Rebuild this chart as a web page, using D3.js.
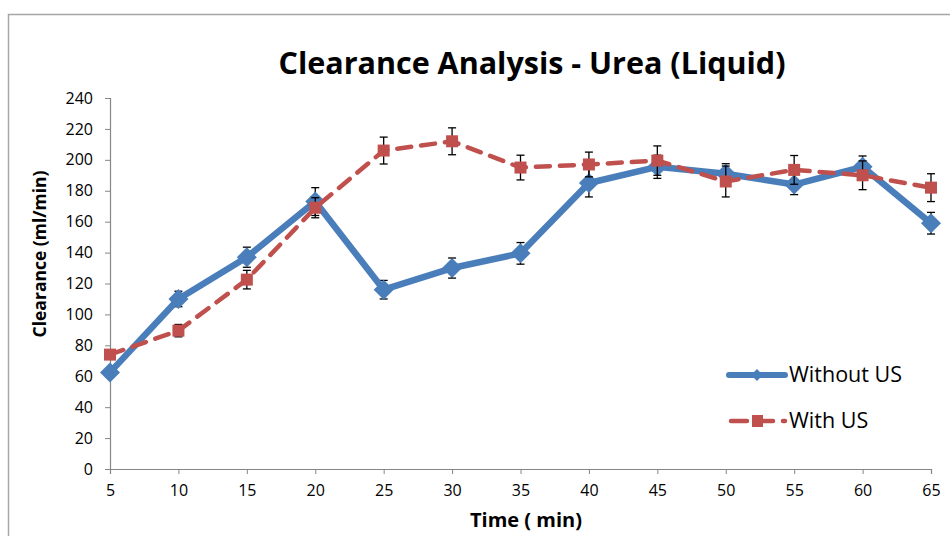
<!DOCTYPE html>
<html>
<head>
<meta charset="utf-8">
<script src="https://cdn.jsdelivr.net/npm/d3@7"></script>
<style>
html,body{margin:0;padding:0;background:#fff;}
svg{display:block;}
text{font-family:"Open Sans","Noto Sans",sans-serif;}
</style>
</head>
<body>
<svg id="chart" width="950" height="536"></svg>
<script>
const times = [5,10,15,20,25,30,35,40,45,50,55,60,65];
const withoutUS = [62.5,110,137,173,116,130,139.5,185,195.5,191,184,195.5,159];
const withoutUSErr = [3,5,6.5,9,6,6.5,7,9,7.5,6.5,6.5,7,7];
const withUS = [74,89.5,122.5,169,206,212,195,197,199.5,186,193.5,190,182];
const withUSErr = [3,4,6,6.5,8.7,8.7,8,8,9.5,10,9.3,9.3,9];
const yTicks = [0,20,40,60,80,100,120,140,160,180,200,220,240];
const seriesNames = ["Without US","With US"];
const chartTitle = "Clearance Analysis - Urea (Liquid)";
const xTitle = "Time ( min)";
const yTitle = "Clearance  (ml/min)";

const svg = d3.select("#chart");
const W = 950, H = 536;
const m = {left:110, right:950-931, top:98, bottom:536-469};

// outer border
svg.append("rect").attr("x",8.5).attr("y",14.5).attr("width",1000).attr("height",600)
  .attr("fill","none").attr("stroke","#a6a6a6").attr("stroke-width",1.5);

const x = d3.scaleLinear().domain([5,65]).range([m.left, W-m.right]);
const y = d3.scaleLinear().domain([0,240]).range([H-m.bottom, m.top]);

// axes
const yAxis = d3.axisLeft(y).tickValues(yTicks).tickSize(5).tickPadding(12);
const gy = svg.append("g").attr("transform",`translate(${m.left},0)`).call(yAxis);
const xAxis = d3.axisBottom(x).tickValues(times).tickSize(5).tickPadding(11);
const gx = svg.append("g").attr("transform",`translate(0,${H-m.bottom})`).call(xAxis);
[gx,gy].forEach(g=>{
  g.selectAll(".domain").attr("stroke","#868686").attr("stroke-width",1.2);
  g.selectAll(".tick line").attr("stroke","#868686");
  g.selectAll(".tick text").attr("font-size",16).attr("fill","#000")
   .style("font-family","'Open Sans',sans-serif");
});

// titles
svg.append("text").attr("x",532).attr("y",74).attr("text-anchor","middle")
  .attr("font-size",30.5).attr("font-weight","bold").text(chartTitle);
svg.append("text").attr("x",526).attr("y",527).attr("text-anchor","middle")
  .attr("font-size",20).attr("font-weight","bold").text(xTitle);
svg.append("text").attr("transform","translate(46,254) rotate(-90)").attr("text-anchor","middle")
  .attr("font-size",17.5).attr("font-weight","bold").text(yTitle);

const blue = "#4a7ebb", red = "#c0504d";
const line = d3.line().x(d=>x(d[0])).y(d=>y(d[1]));

// error bars helper
function errBars(vals, errs){
  const g = svg.append("g").attr("stroke","#000").attr("stroke-width",1.3);
  times.forEach((t,i)=>{
    const cx = x(t), y1 = y(vals[i]+errs[i]), y2 = y(vals[i]-errs[i]);
    g.append("line").attr("x1",cx).attr("x2",cx).attr("y1",y1).attr("y2",y2);
    g.append("line").attr("x1",cx-4).attr("x2",cx+4).attr("y1",y1).attr("y2",y1);
    g.append("line").attr("x1",cx-4).attr("x2",cx+4).attr("y1",y2).attr("y2",y2);
  });
}

// Without US
errBars(withoutUS, withoutUSErr);
svg.append("path").datum(times.map((t,i)=>[t,withoutUS[i]]))
  .attr("d",line).attr("fill","none").attr("stroke",blue).attr("stroke-width",6.5)
  .attr("stroke-linejoin","round");
svg.append("g").selectAll("path").data(times.map((t,i)=>[t,withoutUS[i]])).join("path")
  .attr("d",d3.symbol(d3.symbolSquare,200))
  .attr("transform",d=>`translate(${x(d[0])},${y(d[1])}) rotate(45)`)
  .attr("fill",blue);

// With US
errBars(withUS, withUSErr);
svg.append("path").datum(times.map((t,i)=>[t,withUS[i]]))
  .attr("d",line).attr("fill","none").attr("stroke",red).attr("stroke-width",4.5)
  .attr("stroke-dasharray","14,10").attr("stroke-linecap","round");
svg.append("g").selectAll("rect").data(times.map((t,i)=>[t,withUS[i]])).join("rect")
  .attr("x",d=>x(d[0])-6).attr("y",d=>y(d[1])-6).attr("width",12).attr("height",12)
  .attr("fill",red);

// legend
const lg = svg.append("g");
lg.append("line").attr("x1",729).attr("x2",785).attr("y1",375).attr("y2",375)
  .attr("stroke",blue).attr("stroke-width",6).attr("stroke-linecap","round");
lg.append("path").attr("d",d3.symbol(d3.symbolSquare,70)).attr("transform","translate(757,375) rotate(45)").attr("fill",blue);
lg.append("text").attr("x",789).attr("y",382).attr("font-size",21.5).text(seriesNames[0]);
lg.append("line").attr("x1",731).attr("x2",785).attr("y1",421).attr("y2",421)
  .attr("stroke",red).attr("stroke-width",4.5).attr("stroke-dasharray","16,10").attr("stroke-linecap","round");
lg.append("rect").attr("x",752).attr("y",415).attr("width",11).attr("height",12).attr("fill",red);
lg.append("text").attr("x",789).attr("y",428).attr("font-size",21.5).text(seriesNames[1]);
</script>
</body>
</html>
